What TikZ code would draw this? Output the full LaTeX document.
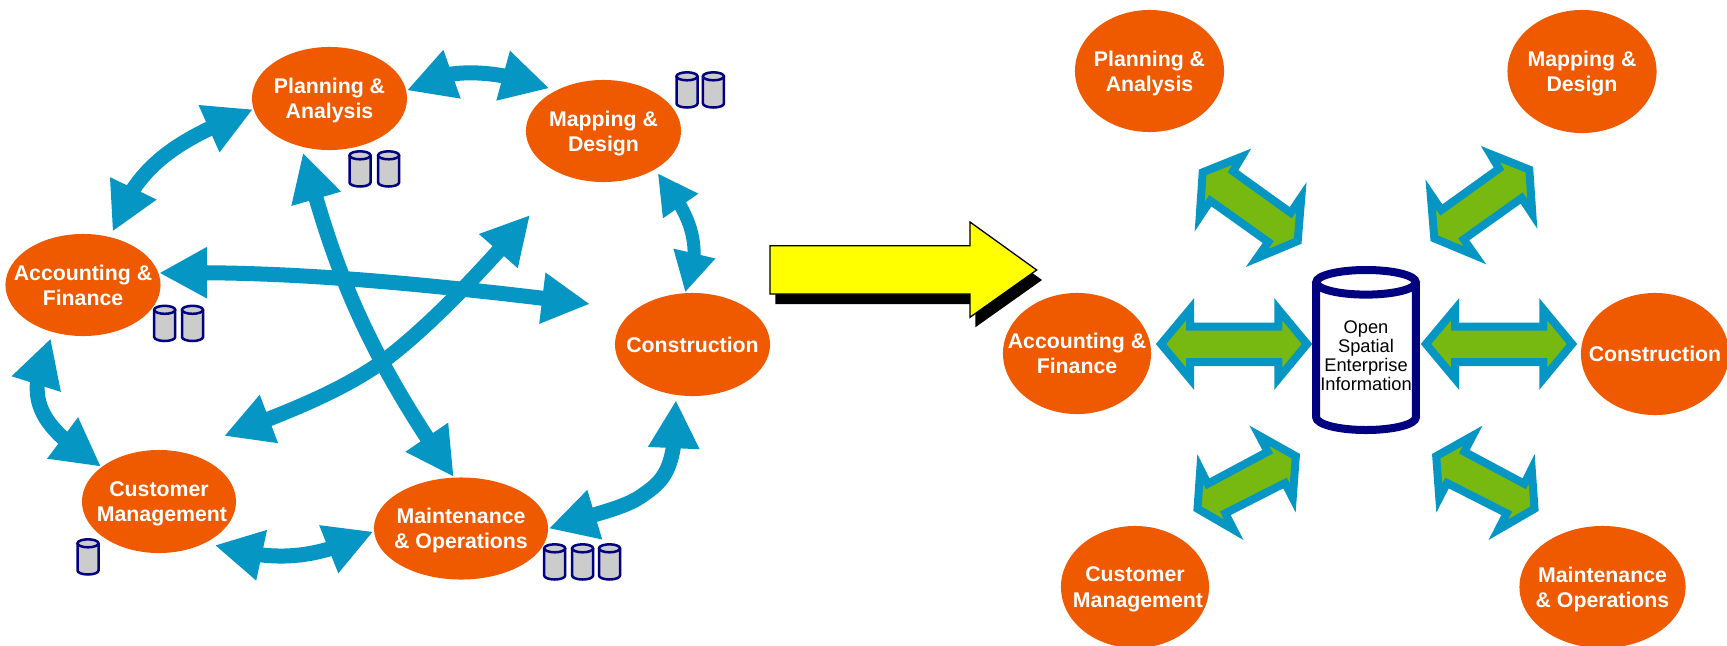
\documentclass[tikz,border=0pt]{standalone}
\usepackage{fontspec}
\setmainfont{Liberation Sans}
\usepackage{tikz}
\usetikzlibrary{arrows.meta,bending,shapes.geometric}
\definecolor{topicorange}{HTML}{EF5900}
\definecolor{linkblue}{HTML}{0596C4}
\definecolor{hubgreen}{HTML}{78B911}
\definecolor{dbnavy}{HTML}{000080}
\definecolor{dbgray}{HTML}{CCCCCC}
\definecolor{bigyellow}{HTML}{FFFF00}
\tikzset{
    topic/.style={ellipse,fill=topicorange,text=white,inner sep=-0.4cm,align=center,text depth=0pt,
        font=\bfseries\fontsize{6.05}{7.2}\selectfont},
    biarrow/.style={draw=linkblue,line width=0.15cm,
        {Triangle[length=0.48cm,width=0.48cm]}-{Triangle[length=0.48cm,width=0.48cm]}},
    thinarrow/.style={draw=linkblue,line width=0.13cm,
        {Triangle[length=0.4cm,width=0.4cm]}-{Triangle[length=0.4cm,width=0.4cm]}},
    hubarrow/.style={draw=linkblue,fill=hubgreen,line width=0.08cm},
    dbline/.style={draw=dbnavy,fill=white,line width=0.08cm},
    smallcyl/.style={draw=dbnavy,fill=dbgray,line width=0.025cm},
    smalldb/.pic={
        \draw[smallcyl] (-10.5,5.3) -- (-10.5,32.5) arc[start angle=180,end angle=360,x radius=0.105cm,y radius=0.04cm] -- (10.5,5.3);
        \draw[smallcyl] (0,5.3) ellipse [x radius=0.105cm,y radius=0.04cm];
    }
}
\begin{document}
\begin{tikzpicture}[x=0.01cm,y=-0.01cm]
    \useasboundingbox (0,0) rectangle (1727,645);

    \node[topic,minimum width=1.55cm,minimum height=1.03cm] (plan) at (329.5,98.5) {Planning \&~\\Analysis};
    \node[topic,minimum width=1.55cm,minimum height=1.02cm] (map) at (603.5,131) {Mapping \&\\Design};
    \node[topic,minimum width=1.55cm,minimum height=1.02cm] (acc) at (83,285) {Accounting \&~\\Finance};
    \node[topic,minimum width=1.55cm,minimum height=1.03cm] (cons) at (692.5,344.5) {Construction};
    \node[topic,minimum width=1.54cm,minimum height=1.03cm] (cust) at (159,501.5) {Customer~\\~Management};
    \node[topic,minimum width=1.74cm,minimum height=1.02cm] (maint) at (461,528.5) {Maintenance~\\\& Operations};

    \coordinate (swend) at (224,436);
    \coordinate (neend) at (530,215);
    \coordinate (eastend) at (590,304);

    \draw[biarrow,shorten >=1.7pt] (plan.6) .. controls (440,68) and (490,66) .. (map.140);
    \draw[biarrow,shorten >=1.5pt] (plan.188) .. controls (185,138) and (135,160) .. (acc.60);
    \draw[biarrow] (acc.9) .. controls (270,271) and (390,279) .. (eastend);
    \draw[biarrow,shorten <=1.6pt] (plan.240) .. controls (328,240) and (350,330) .. (maint.98);
    \draw[biarrow] (swend) .. controls (300,408) and (345,388) .. (382,362) .. controls (420,334) and (470,285) .. (neend);
    \draw[thinarrow,shorten <=1.2pt] (map.-37) .. controls (683,205) and (708,240) .. (cons.98);
    \draw[biarrow,shorten <=1.3pt] (cons.252) .. controls (677,470) and (665,480) .. (640,497) .. controls (622,509) and (590,515) .. (maint.0);
    \draw[biarrow,shorten <=1.7pt] (acc.238) .. controls (25,395) and (30,420) .. (cust.149);
    \draw[biarrow,shorten <=2.4pt] (cust.-41) .. controls (270,562) and (310,562) .. (maint.182);

    \pic at (360,150) {smalldb};
    \pic at (388.6,150) {smalldb};
    \pic at (687,71) {smalldb};
    \pic at (713.4,71) {smalldb};
    \pic at (164.7,304.5) {smalldb};
    \pic at (192.5,304.5) {smalldb};
    \pic at (88,538) {smalldb};
    \pic at (554.7,543) {smalldb};
    \pic at (582.6,543) {smalldb};
    \pic at (609.5,543) {smalldb};

    \fill[black] (775.3,255.7) -- (975.3,255.7) -- (975.3,232) -- (1042,280) -- (975.3,327.3) -- (975.3,304) -- (775.3,304) -- cycle;
    \draw[black,fill=bigyellow,line width=0.013cm] (770,245.7) -- (970,245.7) -- (970,222) -- (1036.7,270) -- (970,317.3) -- (970,294) -- (770,294) -- cycle;

    \node[topic,minimum width=1.49cm,minimum height=1.22cm] (rplan) at (1149.5,71) {Planning \&~\\Analysis};
    \node[topic,minimum width=1.49cm,minimum height=1.23cm] (rmap) at (1582,71.5) {Mapping \&\\Design};
    \node[topic,minimum width=1.48cm,minimum height=1.21cm] (racc) at (1077,353.5) {Accounting \&~\\Finance};
    \node[topic,minimum width=1.48cm,minimum height=1.22cm] (rcons) at (1655,354) {Construction};
    \node[topic,minimum width=1.48cm,minimum height=1.22cm] (rcust) at (1135,587) {Customer~\\~Management};
    \node[topic,minimum width=1.66cm,minimum height=1.22cm] (rmaint) at (1602.5,587) {Maintenance~\\\& Operations};

    \draw[dbline] (1316.2,282.3) -- (1316.2,417.3) arc[start angle=180,end angle=360,x radius=0.498cm,y radius=0.127cm] -- (1415.8,282.3);
    \draw[dbline] (1366,282.3) ellipse [x radius=0.498cm,y radius=0.123cm];
    \node[align=center,inner sep=0pt,font=\fontsize{5.2}{5.4}\selectfont] (hub) at (1366,356) {Open\\Spatial\\Enterprise\\Information};

    \draw[hubarrow] (1161,344) -- (1190,309.3) -- (1190,326.7) -- (1278.3,326.7) -- (1278.3,309.3) -- (1307,344) -- (1278.3,378.7) -- (1278.3,362) -- (1190,362) -- (1190,378.7) -- cycle;
    \draw[hubarrow] (1426,344) -- (1455,309.3) -- (1455,326.7) -- (1543.3,326.7) -- (1543.3,309.3) -- (1572,344) -- (1543.3,378.7) -- (1543.3,362) -- (1455,362) -- (1455,378.7) -- cycle;
    \draw[hubarrow] (1241.7,156.7) -- (1202.7,172.3) -- (1199.7,216.7) -- (1210.3,200.7) -- (1268.3,242) -- (1257,258) -- (1297.7,241) -- (1301.3,197) -- (1290.7,212.7) -- (1233,171.3) -- cycle;
    \draw[hubarrow] (1490.3,154) -- (1529.3,169.6) -- (1532.3,214) -- (1521.7,198) -- (1463.7,239.3) -- (1475,255.3) -- (1434.3,238.3) -- (1430.7,194.3) -- (1441.3,210) -- (1499,168.6) -- cycle;
    \draw[hubarrow] (1259.3,435.7) -- (1295.8,456.2) -- (1292.7,498) -- (1285,483) -- (1225.3,513.3) -- (1233.7,529.7) -- (1197.5,508.7) -- (1200.3,469) -- (1207.7,483.8) -- (1267.7,451.7) -- cycle;
    \draw[hubarrow] (1472.7,435.7) -- (1436.2,456.2) -- (1439.3,498) -- (1447,483) -- (1506.7,513.3) -- (1498.3,529.7) -- (1534.5,508.7) -- (1531.7,469) -- (1524.3,483.8) -- (1464.3,451.7) -- cycle;
\end{tikzpicture}
\end{document}
